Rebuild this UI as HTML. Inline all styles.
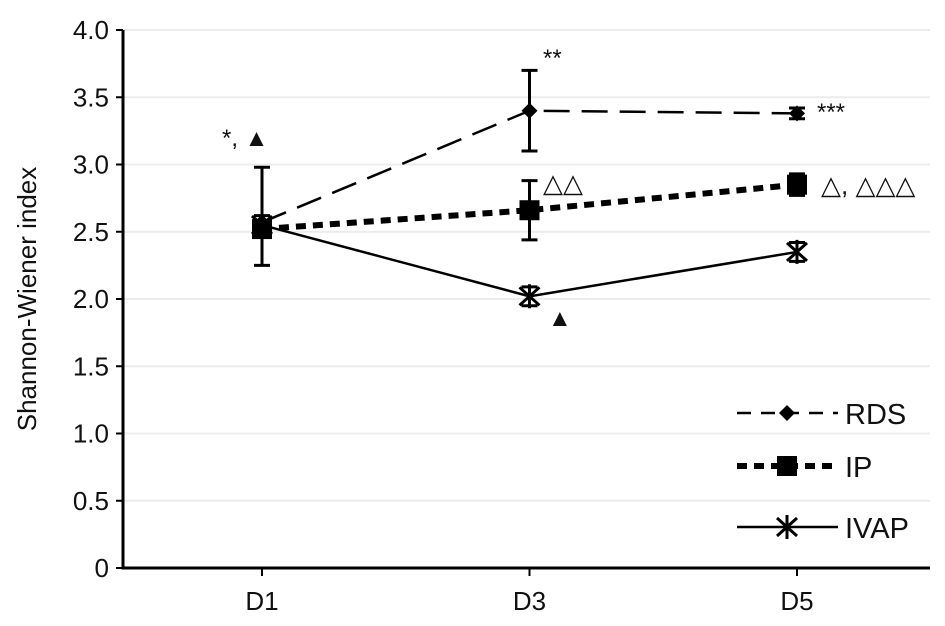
<!DOCTYPE html>
<html><head><meta charset="utf-8"><style>
body{margin:0;background:#fff}
svg text{font-family:"Liberation Sans",sans-serif;fill:#111}
</style></head><body>
<svg id="c" width="945" height="621" xmlns="http://www.w3.org/2000/svg"></svg>
<script>
const categories=["D1","D3","D5"];
const rdsVals=[2.57,3.40,3.38];
const rdsErrUp=[0.05,0.30,0.04];
const rdsErrLo=[0.05,0.30,0.04];
const ipVals=[2.52,2.66,2.85];
const ipErrUp=[0.06,0.22,0.08];
const ipErrLo=[0.06,0.22,0.08];
const ivapVals=[2.55,2.02,2.35];
const ivapErrUp=[0.43,0.07,0.07];
const ivapErrLo=[0.30,0.07,0.07];
const yTicks=[0,0.5,1,1.5,2,2.5,3,3.5,4];
const yTickLabels=["0","0.5","1.0","1.5","2.0","2.5","3.0","3.5","4.0"];
const NS="http://www.w3.org/2000/svg";
const svg=document.getElementById('c');
const x0=123,x1=930,yTop=30,yBot=568;
const xs=i=>262+i*267.5;
const ys=v=>yBot-(v/4)*(yBot-yTop);
function el(t,a,p){const e=document.createElementNS(NS,t);for(const k in a)e.setAttribute(k,a[k]);(p||svg).appendChild(e);return e;}
yTicks.forEach((v,i)=>{
 if(v>0){const g=el('line',{x1:x0,x2:x1,y1:ys(v),y2:ys(v),stroke:'#ececec','stroke-width':2});
 
 }
 const t=el('line',{x1:x0-7,x2:x0,y1:ys(v),y2:ys(v),stroke:'#000','stroke-width':2});
 
 
 const l=el('text',{x:x0-14,y:ys(v)+9,'text-anchor':'end','font-size':26});
 l.textContent=yTickLabels[i];
 
 
});
const ax=el('path',{d:`M${x0},${yTop} V${yBot} H${x1}`,stroke:'#000','stroke-width':3,fill:'none'});


categories.forEach((c,i)=>{
 const t=el('line',{x1:xs(i),x2:xs(i),y1:yBot,y2:yBot+8,stroke:'#000','stroke-width':2});
 
 
 const l=el('text',{x:xs(i),y:yBot+42,'text-anchor':'middle','font-size':26});
 l.textContent=c;
 
 
});
const yt=el('text',{x:0,y:0,'text-anchor':'middle','font-size':26,transform:`translate(36,${(yTop+yBot)/2}) rotate(-90)`});
yt.textContent='Shannon-Wiener index';


function marker(type,x,y,g){
 if(type==='d')el('path',{d:`M${x},${y-8}L${x+8},${y}L${x},${y+8}L${x-8},${y}Z`,fill:'#000'},g);
 else if(type==='s')el('rect',{x:x-10,y:y-10,width:20,height:20,fill:'#000'},g);
 else{el('path',{d:`M${x-10},${y-9}L${x+10},${y+9}M${x-10},${y+9}L${x+10},${y-9}M${x},${y-12}V${y+12}`,stroke:'#000','stroke-width':3},g);}
}
function series(name,vals,up,lo,dash,width,type){
 const g=el('g',{});
 
 
 el('polyline',{points:vals.map((v,i)=>xs(i)+','+ys(v)).join(' '),fill:'none',stroke:'#000','stroke-width':width,'stroke-dasharray':dash},g);
 vals.forEach((v,i)=>{
  const x=xs(i),a=ys(v+up[i]),b=ys(v-lo[i]);
  el('path',{d:`M${x},${a}V${b}M${x-8},${a}H${x+8}M${x-8},${b}H${x+8}`,stroke:'#000','stroke-width':3},g);
  marker(type,x,ys(v),g);
 });
}
series('ivap',ivapVals,ivapErrUp,ivapErrLo,'none',2.5,'x');
series('ip',ipVals,ipErrUp,ipErrLo,'10 7',6,'s');
series('rds',rdsVals,rdsErrUp,rdsErrLo,'26 12',2.5,'d');
function ann(txt,x,y,name,size){const t=el('text',{x:x,y:y,'font-size':size||24});t.textContent=txt;
 
 }
ann('*, ▲',222,146,'annotation-d1');
ann('**',543,66,'annotation-d3-rds');
ann('△△',543,192,'annotation-d3-ip',26);
ann('▲',548,326,'annotation-d3-ivap');
ann('***',817,120,'annotation-d5-rds');
ann('△, △△△',821,194,'annotation-d5-ip',26);
const leg=[['RDS','14 10',2.5,'d',413],['IP','10 7',6,'s',466],['IVAP','none',2.5,'x',527]];
leg.forEach(l=>{
 const g=el('g',{});
 
 
 el('line',{x1:737,x2:838,y1:l[4],y2:l[4],stroke:'#000','stroke-width':l[2],'stroke-dasharray':l[1]},g);
 marker(l[3],787,l[4],g);
 const t=el('text',{x:845,y:l[4]+11,'font-size':29},g);t.textContent=l[0];
});
</script>
</body></html>
